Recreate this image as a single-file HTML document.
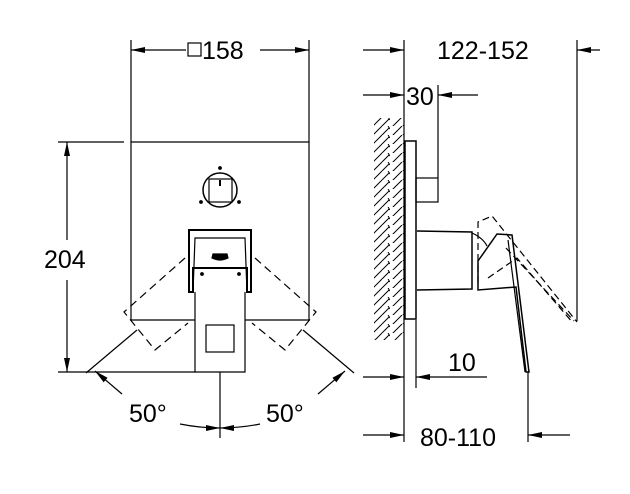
<!DOCTYPE html>
<html><head><style>body{margin:0;background:#fff}svg{display:block}text{font-family:"Liberation Sans",sans-serif;fill:#000}</style></head><body>
<svg width="630" height="494" viewBox="0 0 630 494" xmlns="http://www.w3.org/2000/svg">
<defs>
<marker id="a" viewBox="0 0 14 6" refX="14" refY="3" markerWidth="14" markerHeight="6" orient="auto" markerUnits="userSpaceOnUse"><path d="M0,0 L14,3 L0,6 z" fill="#000"/></marker>
<pattern id="h" width="30" height="9" patternUnits="userSpaceOnUse"><path d="M2,10 L12,0 M12,10 L22,0 M21,10 L29,2 M28,0 L30,3" stroke="#000" stroke-width="1" fill="none"/></pattern>
</defs>
<g stroke="#000" stroke-width="1.2" fill="none">
<line x1="131" y1="40" x2="131" y2="142"/><line x1="309" y1="40" x2="309" y2="142"/>
<line x1="186" y1="50" x2="131" y2="50" marker-end="url(#a)"/>
<line x1="260" y1="50" x2="309" y2="50" marker-end="url(#a)"/>
<rect x="188" y="43" width="13" height="13"/>
<line x1="58" y1="142" x2="124" y2="142"/><line x1="58" y1="372" x2="195" y2="372"/>
<line x1="67" y1="240" x2="67" y2="142" marker-end="url(#a)"/>
<line x1="67" y1="280" x2="67" y2="372" marker-end="url(#a)"/>
<path d="M195,320 H131 V142 H309 V320 H245"/>
<circle cx="220" cy="190" r="17" stroke-width="1.5"/>
<rect x="209" y="179" width="23" height="23"/>
<line x1="220" y1="180" x2="220" y2="186" stroke-width="2"/>
<circle cx="220" cy="168" r="1.3" fill="#000"/><circle cx="201" cy="202" r="1.3" fill="#000"/><circle cx="239" cy="202" r="1.3" fill="#000"/>
<path d="M189,292 V230 H251 V292 H247 V268 H193 V292 Z" stroke-width="2"/>
<path d="M193,292 L195,238 H245 L247,292"/>
<path d="M195,292 V372 H245 V292"/>
<rect x="206" y="325" width="28" height="27"/>
<path d="M212,258 Q220,262 228,258 L227,254 H213 Z" fill="#000"/>
<circle cx="202" cy="274" r="1.3" fill="#000"/><circle cx="239" cy="274" r="1.3" fill="#000"/>
<g stroke-dasharray="8,5">
<path d="M185,258 L124,312 L155,350 L188,323"/>
<path d="M255,258 L316,312 L285,350 L252,323"/>
</g>
<line x1="220" y1="372" x2="220" y2="438"/>
<line x1="137" y1="330" x2="86" y2="373"/><line x1="303" y1="330" x2="354" y2="373"/>
<line x1="122" y1="394" x2="95" y2="371" marker-end="url(#a)"/>
<line x1="318" y1="394" x2="345" y2="371" marker-end="url(#a)"/>
<path d="M180,424 Q200,428 220,428" marker-end="url(#a)"/>
<path d="M260,424 Q240,428 220,428" marker-end="url(#a)"/>
<line x1="404" y1="40" x2="404" y2="442"/>
<rect x="374" y="118" width="30" height="222" fill="url(#h)" stroke="none"/>
<line x1="363" y1="50" x2="404" y2="50" marker-end="url(#a)"/>
<line x1="600" y1="50" x2="577" y2="50" marker-end="url(#a)"/>
<line x1="577" y1="40" x2="577" y2="321"/>
<line x1="363" y1="95" x2="404" y2="95" marker-end="url(#a)"/>
<line x1="478" y1="95" x2="438" y2="95" marker-end="url(#a)"/>
<line x1="438" y1="85" x2="438" y2="178"/>
<rect x="405" y="141" width="11" height="178" stroke-width="1.5"/>
<rect x="416" y="178" width="22" height="24"/>
<path d="M417,231 L472,232 V289 L417,290" stroke-width="1.5"/>
<path d="M472,233 Q483,238 487,246"/>
<path d="M478,261 L497,234 L512,235 L529,372 L526,372 L516,287 L478,290 Z" stroke-width="1.5"/>
<line x1="508" y1="240" x2="525" y2="372"/>
<g stroke-dasharray="7,4">
<path d="M478,283 V222 L492,216 L577,322"/>
<path d="M488,278 L517,258 L573,323"/>
<path d="M506,248 L574,321"/>
</g>
<line x1="416" y1="320" x2="416" y2="388"/>
<line x1="363" y1="377" x2="404" y2="377" marker-end="url(#a)"/>
<line x1="487" y1="377" x2="416" y2="377" marker-end="url(#a)"/>
<line x1="528" y1="372" x2="528" y2="442"/>
<line x1="363" y1="435" x2="404" y2="435" marker-end="url(#a)"/>
<line x1="570" y1="435" x2="528" y2="435" marker-end="url(#a)"/>
</g>
<g font-size="25">
<text x="202" y="59">158</text>
<text x="44" y="268">204</text>
<text x="437" y="59">122-152</text>
<text x="406" y="105">30</text>
<text x="448" y="371">10</text>
<text x="420" y="446">80-110</text>
<text x="129" y="422">50°</text>
<text x="266" y="422">50°</text>
</g>
</svg>
</body></html>
